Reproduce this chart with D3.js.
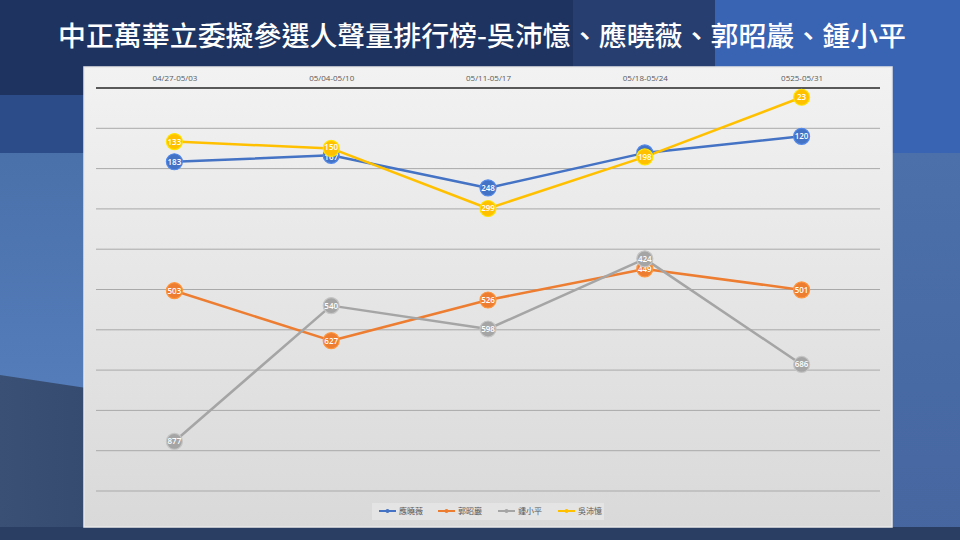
<!DOCTYPE html>
<html><head><meta charset="utf-8">
<script src="https://cdn.jsdelivr.net/npm/d3@7/dist/d3.min.js"></script>
<style>html,body{margin:0;padding:0;background:#2a4270;}svg{display:block;}</style>
</head><body><svg id="c" width="960" height="540"></svg>
<script>
const title = "中正萬華立委擬參選人聲量排行榜-吳沛憶、應曉薇、郭昭巖、鍾小平";
const categories = ["04/27-05/03","05/04-05/10","05/11-05/17","05/18-05/24","0525-05/31"];
const seriesNames = ["應曉薇","郭昭巖","鍾小平","吳沛憶"];
const seriesColors = ["#4472c4","#ed7d31","#a5a5a5","#ffc000"];
const valuesYing = [183,167,248,161,120];
const valuesGuo  = [503,627,526,449,501];
const valuesZhong= [877,540,598,424,686];
const valuesWu   = [133,150,299,171,23];
const labelsYing = ["183","167","248","","120"];
const labelsGuo  = ["503","627","526","449","501"];
const labelsZhong= ["877","540","598","424","686"];
const labelsWu   = ["133","150","299","198","23"];
const yTicks = [0,100,200,300,400,500,600,700,800,900,1000];

const series = [
  {name:seriesNames[0], color:seriesColors[0], values:valuesYing, labels:labelsYing, nudge:[0,2,0,0,0]},
  {name:seriesNames[1], color:seriesColors[1], values:valuesGuo, labels:labelsGuo, nudge:[0,0,0,0,0]},
  {name:seriesNames[2], color:seriesColors[2], values:valuesZhong, labels:labelsZhong, nudge:[0,0,0,0,0]},
  {name:seriesNames[3], color:seriesColors[3], values:valuesWu, labels:labelsWu, nudge:[0,-1.5,0,0,0]}
];

const svg = d3.select("#c");
const defs = svg.append("defs");

// background
const bgTop = defs.append("linearGradient").attr("id","bgmid").attr("x1",0).attr("y1",0).attr("x2",0).attr("y2",1);
bgTop.append("stop").attr("offset","0%").attr("stop-color","#44699f");
bgTop.append("stop").attr("offset","100%").attr("stop-color","#5a84c4");
const bgBot = defs.append("linearGradient").attr("id","bgbot").attr("x1",0).attr("y1",0).attr("x2",1).attr("y2",0);
bgBot.append("stop").attr("offset","0%").attr("stop-color","#3a5075");
bgBot.append("stop").attr("offset","100%").attr("stop-color","#2c3f63");
const bgR = defs.append("linearGradient").attr("id","bgr").attr("x1",0).attr("y1",0).attr("x2",0).attr("y2",1);
bgR.append("stop").attr("offset","0%").attr("stop-color","#4b70aa");
bgR.append("stop").attr("offset","100%").attr("stop-color","#4666a0");

svg.append("rect").attr("width",960).attr("height",540).attr("fill","url(#bgmid)");
svg.append("rect").attr("x",0).attr("y",0).attr("width",960).attr("height",153).attr("fill","#2b4c88");
svg.append("rect").attr("x",0).attr("y",0).attr("width",573).attr("height",95).attr("fill","#1e3360");
svg.append("rect").attr("x",573).attr("y",0).attr("width",142).attr("height",95).attr("fill","#273f70");
svg.append("rect").attr("x",715).attr("y",0).attr("width",245).attr("height",153).attr("fill","#3963b3");
svg.append("rect").attr("x",715).attr("y",153).attr("width",245).attr("height",387).attr("fill","url(#bgr)");
svg.append("path").attr("d","M0,375 L300,420 L300,540 L0,540 Z").attr("fill","url(#bgbot)");
svg.append("rect").attr("x",0).attr("y",527).attr("width",960).attr("height",13).attr("fill","#2a3d62");

// title
svg.append("text").attr("x",482).attr("y",46).attr("text-anchor","middle")
  .attr("font-family","'Noto Sans CJK TC','Noto Sans CJK SC',sans-serif").attr("font-weight",500)
  .attr("font-size",27).attr("fill","#ffffff").attr("textLength",848).attr("lengthAdjust","spacingAndGlyphs")
  .text(title);

// panel
const pg = defs.append("linearGradient").attr("id","panel").attr("x1",0).attr("y1",0).attr("x2",0).attr("y2",1);
pg.append("stop").attr("offset","0%").attr("stop-color","#f2f2f2");
pg.append("stop").attr("offset","100%").attr("stop-color","#d9d9d9");
svg.append("rect").attr("x",84).attr("y",67).attr("width",808).attr("height",460)
  .attr("fill","url(#panel)").attr("stroke","#e8e8e8").attr("stroke-width",1.5);

const x = d3.scalePoint().domain(categories).range([96,880]).padding(0.5);
const y = d3.scaleLinear().domain([0,1000]).range([88,491]);

// gridlines
svg.append("g").selectAll("line").data(yTicks.slice(1)).join("line")
  .attr("x1",96).attr("x2",880).attr("y1",d=>y(d)).attr("y2",d=>y(d))
  .attr("stroke","#a9a9a9").attr("stroke-width",1);

// top axis
const xAxis = d3.axisTop(x).tickSize(0).tickPadding(7);
const gx = svg.append("g").attr("transform",`translate(0,${y(0)})`).call(xAxis);
gx.select(".domain").attr("d","M96,0H880").attr("stroke","#262626").attr("stroke-width",1.5);
gx.selectAll("text").attr("font-family","'Open Sans','Noto Sans',sans-serif").attr("font-size",8)
  .attr("fill","#595959");

const line = d3.line().x((d,i)=>x(categories[i])).y(d=>y(d));
const lines = svg.append("g");
series.forEach(s=>{
  lines.append("path").attr("d",line(s.values)).attr("fill","none")
    .attr("stroke",s.color).attr("stroke-width",2.5).attr("stroke-linejoin","round");
});
series.forEach(s=>{
  const g = svg.append("g");
  g.selectAll("circle").data(s.values).join("circle")
    .attr("cx",(d,i)=>x(categories[i])).attr("cy",d=>y(d)).attr("r",8)
    .attr("fill",s.color).attr("stroke",d3.color(s.color).brighter(0.5)).attr("stroke-width",1.2);
  g.selectAll("text").data(s.values).join("text")
    .attr("x",(d,i)=>x(categories[i])).attr("y",(d,i)=>y(d)+3+s.nudge[i])
    .attr("text-anchor","middle").attr("font-family","'Open Sans','Noto Sans',sans-serif")
    .attr("font-size",8).attr("font-weight",600).attr("fill","#ffffff")
    .text((d,i)=>s.labels[i]);
});

// legend
const lg = svg.append("g");
lg.append("rect").attr("x",372).attr("y",503).attr("width",232).attr("height",17).attr("fill","#e4e4e4");
const lx = [379,438,498,558];
series.forEach((s,i)=>{
  const g = lg.append("g").attr("transform",`translate(${lx[i]},511)`);
  g.append("line").attr("x1",0).attr("x2",17).attr("y1",0).attr("y2",0).attr("stroke",s.color).attr("stroke-width",2);
  g.append("circle").attr("cx",8.5).attr("cy",0).attr("r",2).attr("fill",s.color);
  g.append("text").attr("x",20).attr("y",3).attr("font-family","'Noto Sans CJK TC',sans-serif")
    .attr("font-size",8).attr("fill","#595959").text(s.name);
});
</script></body></html>
